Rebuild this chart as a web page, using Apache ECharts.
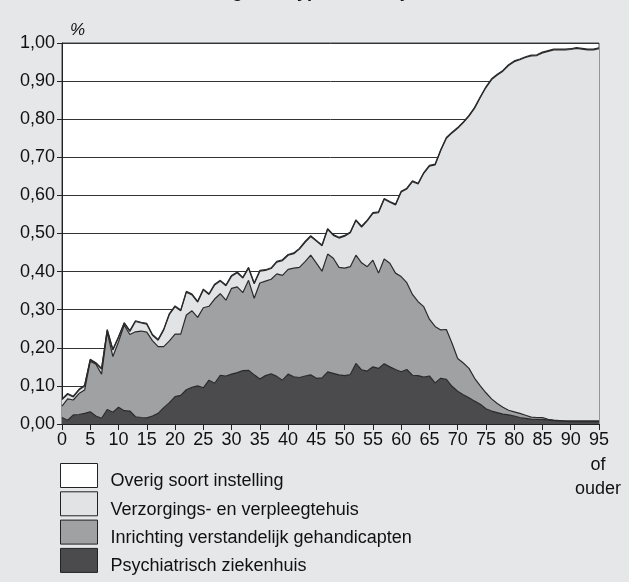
<!DOCTYPE html>
<html>
<head>
<meta charset="utf-8">
<title>Bewoners van instellingen</title>
<script src="https://cdn.jsdelivr.net/npm/echarts@6.0.0/dist/echarts.min.js"></script>
<style>
  html, body { margin: 0; padding: 0; background: #e6e7e9; }
  #chart { width: 629px; height: 582px; }
</style>
</head>
<body>
<div id="chart"></div>
<script>
// leeftijd 0 t/m 95 (95 = 95 of ouder)
var ages = [];
for (var a = 0; a <= 95; a++) ages.push(String(a));

var yTicks = [0, 0.1, 0.2, 0.3, 0.4, 0.5, 0.6, 0.7, 0.8, 0.9, 1.0];

// psychiatrisch ziekenhuis
var psychiatrisch = [
  0.017, 0.010, 0.024, 0.025, 0.028, 0.032, 0.021, 0.015, 0.038, 0.031,
  0.044, 0.035, 0.034, 0.019, 0.017, 0.016, 0.021, 0.028, 0.043, 0.056,
  0.072, 0.075, 0.090, 0.096, 0.100, 0.095, 0.115, 0.107, 0.128, 0.126,
  0.131, 0.135, 0.140, 0.141, 0.129, 0.118, 0.127, 0.132, 0.125, 0.115,
  0.131, 0.124, 0.122, 0.126, 0.129, 0.120, 0.121, 0.137, 0.133, 0.129,
  0.127, 0.130, 0.159, 0.142, 0.139, 0.150, 0.146, 0.158, 0.150, 0.143,
  0.137, 0.143, 0.128, 0.127, 0.123, 0.126, 0.108, 0.120, 0.117, 0.099,
  0.086, 0.077, 0.069, 0.060, 0.052, 0.040, 0.034, 0.030, 0.026, 0.024,
  0.021, 0.017, 0.015, 0.013, 0.012, 0.012, 0.010, 0.009, 0.008, 0.007,
  0.006, 0.006, 0.006, 0.006, 0.006, 0.006
];

// inrichting verstandelijk gehandicapten
var inrichting = [
  0.030, 0.056, 0.039, 0.055, 0.061, 0.133, 0.136, 0.116, 0.204, 0.146,
  0.172, 0.225, 0.201, 0.223, 0.227, 0.225, 0.198, 0.175, 0.160, 0.162,
  0.164, 0.161, 0.196, 0.201, 0.180, 0.210, 0.194, 0.221, 0.214, 0.199,
  0.225, 0.225, 0.205, 0.236, 0.201, 0.252, 0.248, 0.248, 0.269, 0.275,
  0.275, 0.285, 0.289, 0.300, 0.314, 0.302, 0.280, 0.309, 0.302, 0.282,
  0.282, 0.283, 0.284, 0.281, 0.274, 0.280, 0.250, 0.275, 0.272, 0.253,
  0.250, 0.228, 0.212, 0.194, 0.185, 0.149, 0.148, 0.127, 0.131, 0.113,
  0.086, 0.083, 0.077, 0.060, 0.048, 0.042, 0.032, 0.024, 0.018, 0.012,
  0.011, 0.011, 0.008, 0.005, 0.005, 0.005, 0.002, 0.001, 0.001, 0.001,
  0.002, 0.002, 0.002, 0.002, 0.002, 0.002
];

// verzorgings- en verpleegtehuis
var verzorging = [
  0.017, 0.012, 0.008, 0.009, 0.011, 0.003, 0.002, 0.013, 0.004, 0.017,
  0.011, 0.004, 0.008, 0.027, 0.021, 0.021, 0.014, 0.017, 0.044, 0.070,
  0.072, 0.061, 0.060, 0.042, 0.040, 0.047, 0.031, 0.037, 0.033, 0.038,
  0.032, 0.037, 0.038, 0.032, 0.038, 0.031, 0.028, 0.028, 0.031, 0.039,
  0.037, 0.038, 0.048, 0.051, 0.049, 0.058, 0.067, 0.065, 0.060, 0.077,
  0.084, 0.089, 0.091, 0.094, 0.120, 0.123, 0.159, 0.157, 0.160, 0.179,
  0.222, 0.246, 0.296, 0.309, 0.350, 0.402, 0.424, 0.471, 0.502, 0.552,
  0.604, 0.631, 0.662, 0.709, 0.757, 0.801, 0.838, 0.862, 0.882, 0.905,
  0.919, 0.928, 0.939, 0.948, 0.950, 0.957, 0.966, 0.972, 0.973, 0.974,
  0.975, 0.978, 0.976, 0.974, 0.974, 0.977
];

// overig soort instelling
var overig = [
  0.002, 0.002, 0.002, 0.002, 0.002, 0.002, 0.002, 0.002, 0.002, 0.002,
  0.002, 0.002, 0.002, 0.002, 0.002, 0.002, 0.002, 0.002, 0.002, 0.002,
  0.002, 0.002, 0.002, 0.002, 0.002, 0.002, 0.002, 0.002, 0.002, 0.002,
  0.002, 0.002, 0.002, 0.002, 0.002, 0.002, 0.002, 0.002, 0.002, 0.002,
  0.002, 0.002, 0.002, 0.002, 0.002, 0.002, 0.002, 0.002, 0.002, 0.002,
  0.002, 0.002, 0.002, 0.002, 0.002, 0.002, 0.002, 0.002, 0.002, 0.002,
  0.002, 0.002, 0.002, 0.002, 0.002, 0.002, 0.002, 0.002, 0.002, 0.002,
  0.002, 0.002, 0.002, 0.002, 0.002, 0.002, 0.002, 0.002, 0.002, 0.002,
  0.002, 0.002, 0.002, 0.002, 0.002, 0.002, 0.002, 0.002, 0.002, 0.002,
  0.002, 0.002, 0.002, 0.002, 0.002, 0.002
];

var FONT = 'Liberation Sans, Arial, sans-serif';
var LINE = '#2a2a2a';

var layers = [
  {name: 'Psychiatrisch ziekenhuis', data: psychiatrisch, color: '#4b4b4d'},
  {name: 'Inrichting verstandelijk gehandicapten', data: inrichting, color: '#a0a1a3'},
  {name: 'Verzorgings- en verpleegtehuis', data: verzorging, color: '#e2e3e5'},
  {name: 'Overig soort instelling', data: overig, color: '#ffffff'}
];

var series = [];
var legend_data = [];
for (var i = 0; i < layers.length; i++) {
  var l = layers[i];
  series.push({
    name: l.name,
    type: 'line',
    stack: 'totaal',
    data: l.data,
    symbol: 'none',
    showSymbol: false,
    itemStyle: {color: l.color},
    lineStyle: {color: LINE, width: 1.2},
    areaStyle: {color: l.color, opacity: 1}
  });
}
// legenda van boven naar beneden: overig eerst
for (var j = layers.length - 1; j >= 0; j--) {
  legend_data.push({
    name: layers[j].name,
    icon: 'rect',
    itemStyle: {color: layers[j].color, borderColor: '#222', borderWidth: 1}
  });
}

var chart = echarts.init(document.getElementById('chart'), null, {renderer: 'canvas'});
var option = {
  backgroundColor: '#e6e7e9',
  animation: false,
  textStyle: {fontFamily: FONT},
  graphic: [
    {
      type: 'text', left: 20, top: -17,
      style: {text: 'Personen in een instelling naar type en leeftijd',
              font: 'bold 18px ' + FONT, fill: '#111'}
    },
    {
      type: 'text', left: 70, top: 22,
      style: {text: '%', font: 'italic 17px ' + FONT, fill: '#111'}
    },
    {
      // vervolg van het laatste asLabel "95"
      type: 'text', x: 598, y: 453,
      style: {text: 'of\nouder', font: '18px ' + FONT, fill: '#111',
              align: 'center', verticalAlign: 'top', lineHeight: 24}
    }
  ],
  legend: {
    orient: 'vertical',
    left: 60, top: 463, height: 119,
    padding: 0,
    itemWidth: 37, itemHeight: 24, itemGap: 0.8,
    selectedMode: false,
    data: legend_data,
    formatter: function (name) { return '{t|' + name + '}'; },
    textStyle: {
      fontSize: 18, color: '#111', fontFamily: FONT, padding: [0, 0, 0, 8],
      rich: {t: {fontSize: 18, color: '#111', fontFamily: FONT, padding: [12, 0, 0, 0]}}
    }
  },
  grid: {
    left: 62, right: 30, top: 43, bottom: 158,
    outerBoundsMode: 'none',
    show: true, backgroundColor: '#ffffff', borderColor: '#444', borderWidth: 1
  },
  xAxis: {
    type: 'category',
    data: ages,
    boundaryGap: false,
    axisLine: {lineStyle: {color: '#222', width: 1}},
    axisTick: {show: true, interval: 4, length: 6, lineStyle: {color: '#222'}},
    axisLabel: {
      interval: 4, margin: 4, lineHeight: 24,
      fontSize: 18, color: '#111', fontFamily: FONT
    },
    splitLine: {show: false}
  },
  yAxis: {
    type: 'value',
    min: yTicks[0], max: yTicks[yTicks.length - 1], interval: 0.1,
    axisLine: {show: true, lineStyle: {color: '#222', width: 1}},
    axisTick: {show: true, length: 5, lineStyle: {color: '#222'}},
    axisLabel: {
      margin: 7, fontSize: 18, color: '#111', fontFamily: FONT,
      formatter: function (v) { return v.toFixed(2).replace('.', ','); }
    },
    splitLine: {show: true, lineStyle: {color: '#333', width: 1}}
  },
  series: series
};
chart.setOption(option);
</script>
</body>
</html>
